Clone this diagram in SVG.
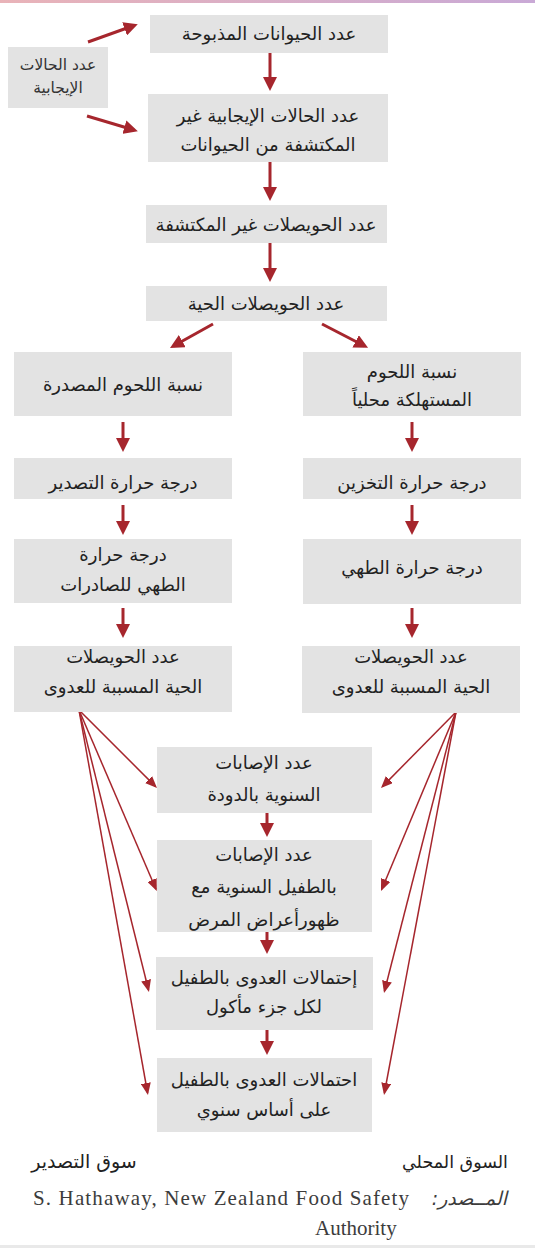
<svg xmlns="http://www.w3.org/2000/svg" width="535" height="1248" viewBox="0 0 535 1248">
<defs>
<linearGradient id="topg" x1="0" y1="0" x2="1" y2="0">
<stop offset="0" stop-color="#e9b3b8"/>
<stop offset="1" stop-color="#c9a9d6"/>
</linearGradient>
<marker id="big" markerUnits="userSpaceOnUse" viewBox="0 0 14 14" markerWidth="14" markerHeight="14" refX="10" refY="7" orient="auto">
<path d="M0,0 L14,7 L0,14 z" fill="#a6262d"/>
</marker>
<marker id="small" markerUnits="userSpaceOnUse" viewBox="0 0 12 10" markerWidth="12" markerHeight="10" refX="10" refY="5" orient="auto">
<path d="M0,0 L12,5 L0,10 z" fill="#a6262d"/>
</marker>
</defs>
<style>
.box{fill:#e3e3e3;}
.t{font-family:"DejaVu Sans",sans-serif;font-size:18px;fill:#222;text-anchor:middle;direction:rtl;}
.ts{font-family:"DejaVu Sans",sans-serif;font-size:15.5px;fill:#333;text-anchor:middle;direction:rtl;}
.lab{font-family:"DejaVu Sans",sans-serif;font-size:19px;fill:#222;text-anchor:middle;direction:rtl;}
.src{font-family:"Liberation Serif",serif;font-size:21px;fill:#3c3c3c;}
.main{stroke:#a6262d;stroke-width:3;fill:none;marker-end:url(#big);}
.fan{stroke:#a6262d;stroke-width:1.5;fill:none;marker-end:url(#small);}
</style>
<rect x="0" y="0" width="535" height="3" fill="url(#topg)"/>
<rect x="0" y="1245" width="535" height="3" fill="#e9e9e9"/>

<g id="connectors">
<line class="main" x1="88" y1="42" x2="134" y2="25.5"/>
<line class="main" x1="87" y1="116" x2="134" y2="130"/>
<line class="main" x1="270" y1="52" x2="270" y2="87"/>
<line class="main" x1="270" y1="162" x2="270" y2="197"/>
<line class="main" x1="270" y1="243" x2="270" y2="278"/>
<line class="main" x1="213" y1="324" x2="173.5" y2="346"/>
<line class="main" x1="322" y1="324" x2="364.5" y2="346"/>
<line class="main" x1="123" y1="422" x2="123" y2="448"/>
<line class="main" x1="412" y1="422" x2="412" y2="448"/>
<line class="main" x1="123" y1="505" x2="123" y2="531"/>
<line class="main" x1="412" y1="505" x2="412" y2="531"/>
<line class="main" x1="123" y1="608" x2="123" y2="634"/>
<line class="main" x1="412" y1="608" x2="412" y2="634"/>
<line class="main" x1="267" y1="813" x2="267" y2="833"/>
<line class="main" x1="267" y1="932" x2="267" y2="950"/>
<line class="main" x1="267" y1="1030" x2="267" y2="1051"/>
<line class="fan" x1="79" y1="710" x2="155.6" y2="786.6"/>
<line class="fan" x1="79" y1="710" x2="156" y2="889.2"/>
<line class="fan" x1="79" y1="710" x2="148.5" y2="990"/>
<line class="fan" x1="79" y1="710" x2="147.6" y2="1093"/>
<line class="fan" x1="456" y1="712" x2="382.4" y2="786.6"/>
<line class="fan" x1="456" y1="712" x2="381.8" y2="889.2"/>
<line class="fan" x1="456" y1="712" x2="384.5" y2="991"/>
<line class="fan" x1="456" y1="712" x2="384.4" y2="1093"/>
</g>

<g id="n-positive">
<rect class="box" x="8" y="47" width="100" height="61"/>
<text class="ts" x="58" y="70">عدد الحالات</text>
<text class="ts" x="58" y="93">الإيجابية</text>
</g>
<g id="n-slaughtered">
<rect class="box" x="150" y="15" width="238" height="38"/>
<text class="t" x="269" y="40">عدد الحيوانات المذبوحة</text>
</g>
<g id="n-undetected-positive">
<rect class="box" x="148" y="94" width="240" height="68"/>
<text class="t" x="268" y="122">عدد الحالات الإيجابية غير</text>
<text class="t" x="268" y="151">المكتشفة من الحيوانات</text>
</g>
<g id="n-undetected-cysts">
<rect class="box" x="146" y="205" width="241" height="38"/>
<text class="t" x="266" y="231">عدد الحويصلات غير المكتشفة</text>
</g>
<g id="n-live-cysts">
<rect class="box" x="146" y="286" width="241" height="35"/>
<text class="t" x="266" y="310">عدد الحويصلات الحية</text>
</g>
<g id="n-export-share">
<rect class="box" x="14" y="352" width="218" height="64"/>
<text class="t" x="123" y="391">نسبة اللحوم المصدرة</text>
</g>
<g id="n-local-share">
<rect class="box" x="303" y="352" width="218" height="64"/>
<text class="t" x="412" y="378">نسبة اللحوم</text>
<text class="t" x="412" y="406">المستهلكة محلياً</text>
</g>
<g id="n-export-temp">
<rect class="box" x="14" y="458" width="218" height="41"/>
<text class="t" x="123" y="489">درجة حرارة التصدير</text>
</g>
<g id="n-storage-temp">
<rect class="box" x="303" y="458" width="218" height="41"/>
<text class="t" x="412" y="489">درجة حرارة التخزين</text>
</g>
<g id="n-export-cook">
<rect class="box" x="14" y="539" width="218" height="64"/>
<text class="t" x="123" y="561">درجة حرارة</text>
<text class="t" x="123" y="591">الطهي للصادرات</text>
</g>
<g id="n-cook">
<rect class="box" x="303" y="539" width="218" height="65"/>
<text class="t" x="412" y="574">درجة حرارة الطهي</text>
</g>
<g id="n-export-infective">
<rect class="box" x="14" y="646" width="218" height="66"/>
<text class="t" x="123" y="663">عدد الحويصلات</text>
<text class="t" x="123" y="693">الحية المسببة للعدوى</text>
</g>
<g id="n-local-infective">
<rect class="box" x="302" y="646" width="218" height="67"/>
<text class="t" x="411" y="663">عدد الحويصلات</text>
<text class="t" x="411" y="693">الحية المسببة للعدوى</text>
</g>
<g id="n-annual-infections">
<rect class="box" x="157" y="747" width="215" height="66"/>
<text class="t" x="264" y="769">عدد الإصابات</text>
<text class="t" x="264" y="801">السنوية بالدودة</text>
</g>
<g id="n-symptomatic">
<rect class="box" x="157" y="840" width="215" height="92"/>
<text class="t" x="264" y="861">عدد الإصابات</text>
<text class="t" x="264" y="893">بالطفيل السنوية مع</text>
<text class="t" x="264" y="926">ظهورأعراض المرض</text>
</g>
<g id="n-prob-portion">
<rect class="box" x="156" y="957" width="217" height="73"/>
<text class="t" x="264" y="984">إحتمالات العدوى بالطفيل</text>
<text class="t" x="264" y="1013">لكل جزء مأكول</text>
</g>
<g id="n-prob-annual">
<rect class="box" x="157" y="1058" width="215" height="74"/>
<text class="t" x="264" y="1086">احتمالات العدوى بالطفيل</text>
<text class="t" x="264" y="1116">على أساس سنوي</text>
</g>

<g id="labels">
<text class="lab" x="84" y="1168">سوق التصدير</text>
<text class="lab" x="455" y="1168" style="font-size:17.5px">السوق المحلي</text>
<text class="src" x="33" y="1205" textLength="376" lengthAdjust="spacing">S. Hathaway, New Zealand Food Safety</text>
<text class="src" x="315" y="1235">Authority</text>
<text x="507" y="1205" style="font-family:'DejaVu Sans',sans-serif;font-size:19px;font-style:italic;fill:#3c3c3c;text-anchor:start;direction:rtl;">المــصدر:</text>
</g>
</svg>
